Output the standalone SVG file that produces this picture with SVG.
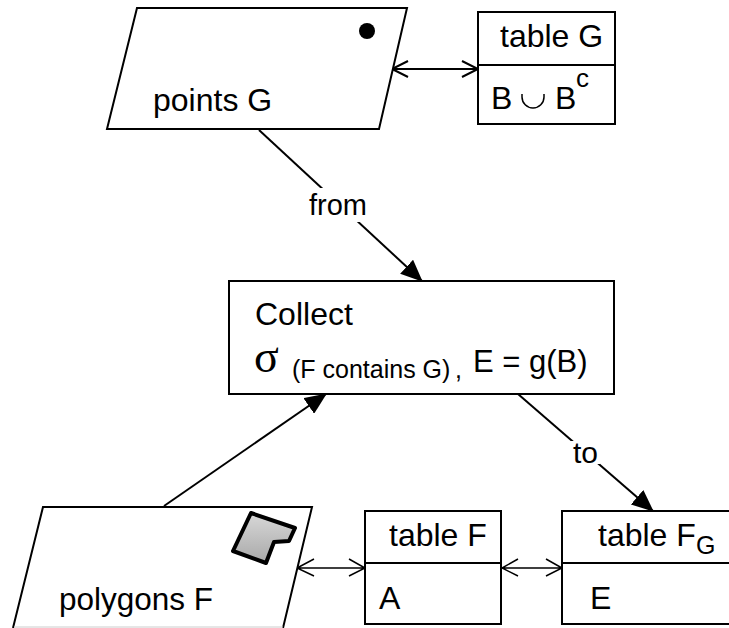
<svg xmlns="http://www.w3.org/2000/svg" width="729" height="628" viewBox="0 0 729 628">
<defs>
<linearGradient id="g" x1="0" y1="0" x2="0" y2="1"><stop offset="0" stop-color="#d8d8d8"/><stop offset="1" stop-color="#a8a8a8"/></linearGradient>
<marker id="solid" viewBox="0 0 22 19" refX="21" refY="9.5" markerWidth="22" markerHeight="19" markerUnits="userSpaceOnUse" orient="auto"><path d="M0 0L22 9.5L0 19Z" fill="#000"/></marker>
</defs>
<style>
.b{fill:#fff;stroke:#000;stroke-width:2}
.l{fill:none;stroke:#000;stroke-width:2}
.h{fill:none;stroke:#000;stroke-width:1.5}
text{font-family:"Liberation Sans",Arial,sans-serif;font-size:32px;fill:#000}
</style>
<rect width="729" height="628" fill="#fff"/>
<g id="connectors">
<path class="l" d="M259 130L422 281" marker-end="url(#solid)"/>
<path class="l" d="M164 506L326 394" marker-end="url(#solid)"/>
<path class="l" d="M518 394L653 511" marker-end="url(#solid)"/>
<path class="l" d="M392 69H478M408 61L392 69L408 77M462 61L478 69L462 77"/>
<path class="h" d="M297 568H365M314 559L297 568L314 576M349 559L365 568L349 576"/>
<path class="h" d="M502 568H562M518 559L502 568L518 576M546 559L562 568L546 576"/>
</g>
<g id="from-label"><rect x="306" y="188" width="66" height="34" fill="#fff"/><text x="309" y="215" style="font-size:29px">from</text></g>
<g id="to-label"><rect x="570" y="441" width="30" height="23" fill="#fff"/><text x="573" y="463" style="font-size:30px">to</text></g>
<g id="points-G">
<path class="b" d="M137 8H407L379 129H107Z"/>
<circle cx="367" cy="31" r="8"/>
<text x="153" y="110.500">points G</text>
</g>
<g id="table-G">
<rect class="b" x="478" y="12" width="137" height="112"/>
<path class="l" d="M478 65H615"/>
<text x="500" y="47">table G</text>
<text x="491" y="108.500">B</text>
<path fill="none" stroke="#000" stroke-width="1.5" d="M522 94V97A11 11 0 0 0 544 97V94"/>
<text x="555" y="108.500">B</text>
<text x="576" y="87" style="font-size:26px">c</text>
</g>
<g id="collect">
<rect class="b" x="229" y="281" width="385" height="113"/>
<text x="255" y="325">Collect</text>
<text x="254" y="372" style="font-family:'Liberation Serif',serif;font-size:46px">σ</text>
<text x="292" y="378" style="font-size:25px">(F contains G)</text>
<text x="455" y="378" style="font-size:25px">,</text>
<text x="473" y="372" style="font-size:31px">E = g(B)</text>
</g>
<g id="polygons-F">
<path d="M43 507H312L283 628H13Z" fill="#fff"/>
<path class="l" d="M13 628L43 507H312L283 628"/>
<path d="M14 627H283" stroke="#ccc" stroke-width="1" fill="none"/>
<path d="M251 513L295 528L289 541L274 542L266 563L233 551Z" fill="url(#g)" stroke="#000" stroke-width="4" stroke-linejoin="round"/>
<text x="59" y="610" style="font-size:31.5px">polygons F</text>
</g>
<g id="table-F">
<rect class="b" x="365" y="511" width="136" height="113"/>
<path class="l" d="M365 563H501"/>
<text x="389" y="546">table F</text>
<text x="379" y="608.500">A</text>
</g>
<g id="table-FG">
<path class="b" d="M729 511H562V624H729"/>
<path class="l" d="M562 563H729"/>
<text x="598" y="546">table F</text>
<text x="696" y="554" style="font-size:25px">G</text>
<text x="590" y="608.500">E</text>
</g>
</svg>
